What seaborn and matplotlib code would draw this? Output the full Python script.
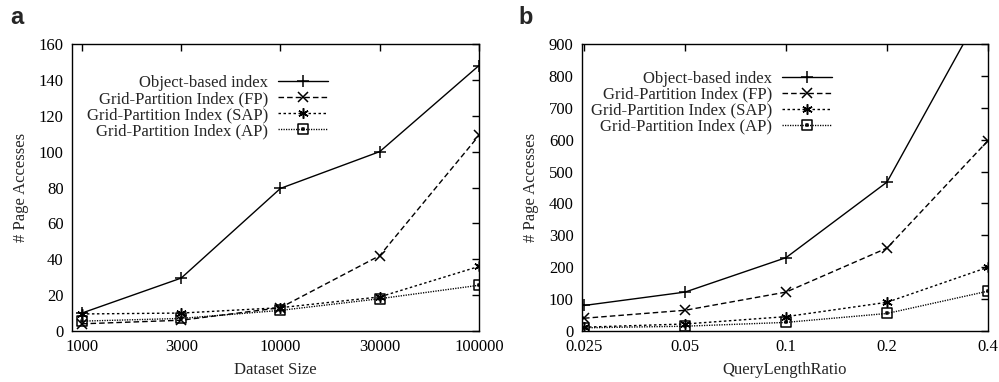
import matplotlib
matplotlib.use("Agg")
import matplotlib.pyplot as plt
import seaborn as sns
import numpy as np
import pandas as pd
from matplotlib.path import Path

# ---------------- data ----------------
dataset_sizes = ["1000", "3000", "10000", "30000", "100000"]
query_ratios = ["0.025", "0.05", "0.1", "0.2", "0.4"]

series_names = ["Object-based index", "Grid-Partition Index (FP)",
                "Grid-Partition Index (SAP)", "Grid-Partition Index (AP)"]

a_object = [10, 29.5, 79.5, 100, 148]
a_fp = [4, 6, 13, 42, 109]
a_sap = [9.5, 10, 13, 19, 36]
a_ap = [5.5, 7, 11.5, 18, 25.5]

b_object = [80, 122, 230, 467, 1040]
b_fp = [40, 65, 122, 260, 597]
b_sap = [12, 22, 45, 90, 200]
b_ap = [10, 15, 27, 55, 125]

# ---------------- style ----------------
sns.set_theme(style="white")
plt.rcParams["font.family"] = ["Liberation Serif", "DejaVu Serif"]
plt.rcParams["font.size"] = 12
plt.rcParams["axes.linewidth"] = 1.0
plt.rcParams["xtick.direction"] = "in"
plt.rcParams["ytick.direction"] = "in"

# square with centre dot marker
outer = [(-1, -1), (1, -1), (1, 1), (-1, 1), (-1, -1)]
inner = [(-0.12, -0.12), (0.12, -0.12), (0.12, 0.12), (-0.12, 0.12), (-0.12, -0.12)]
verts = outer + inner
codes = ([Path.MOVETO] + [Path.LINETO] * 3 + [Path.CLOSEPOLY]) * 2
sq_dot = Path(verts, codes)

styles = [
    dict(linestyle="-", marker="+", markersize=8),
    dict(linestyle=(0, (4, 2.2)), marker="x", markersize=6.5),
    dict(linestyle=(0, (1.8, 1.8)), marker=(6, 2, 0), markersize=7.5),
    dict(linestyle=(0, (0.9, 0.9)), marker=sq_dot, markersize=7, markerfacecolor="none"),
]

fig = plt.figure(figsize=(9.99, 3.82), dpi=100)
axA = fig.add_axes([72 / 999, 1 - 331 / 382, 407 / 999, 287 / 382])
axB = fig.add_axes([582 / 999, 1 - 331 / 382, 406 / 999, 287 / 382])


def draw(ax, labels, data, ylim, yticks, xlabel, xlim, leg_anchor):
    x = np.arange(len(labels))
    for name, vals, st in zip(series_names, data, styles):
        df = pd.DataFrame({"x": x, "y": vals})
        sns.lineplot(data=df, x="x", y="y", ax=ax, color="black", linewidth=1.0,
                     markeredgewidth=1.1, markeredgecolor="black", label=name, **st)
    ax.set_xticks(x)
    ax.set_xticklabels(labels)
    ax.set_xlim(*xlim)
    ax.set_ylim(*ylim)
    ax.set_yticks(yticks)
    ax.set_xlabel(xlabel, labelpad=5)
    ax.set_ylabel("# Page Accesses", labelpad=7)
    ax.tick_params(axis="both", which="both", direction="in", length=5, width=1,
                   top=True, right=True, labelsize=12, pad=6, colors="black")
    for s in ax.spines.values():
        s.set_visible(True)
        s.set_color("black")
        s.set_linewidth(1.0)
    leg = ax.legend(loc="upper right", bbox_to_anchor=leg_anchor, frameon=False,
                    markerfirst=False, handlelength=3.0, handletextpad=0.6,
                    labelspacing=0.0, borderpad=0, borderaxespad=0, fontsize=12)
    try:
        for col in leg._legend_box._children[-1]._children:
            col.align = "right"
    except Exception:
        pass


draw(axA, dataset_sizes, [a_object, a_fp, a_sap, a_ap], (0, 160),
     np.arange(0, 161, 20), "Dataset Size", (-0.1, 4.0), (0.629, 0.891))
draw(axB, query_ratios, [b_object, b_fp, b_sap, b_ap], (0, 900),
     np.arange(0, 901, 100), "QueryLengthRatio", (-0.02, 4.0), (0.616, 0.907))

fig.text(10 / 999, 1 - 18 / 382, "a", fontsize=17, fontweight="bold",
         family=["Liberation Sans", "DejaVu Sans"], va="center", ha="left")
fig.text(518 / 999, 1 - 18 / 382, "b", fontsize=17, fontweight="bold",
         family=["Liberation Sans", "DejaVu Sans"], va="center", ha="left")

fig.savefig("out.png", dpi=100)
